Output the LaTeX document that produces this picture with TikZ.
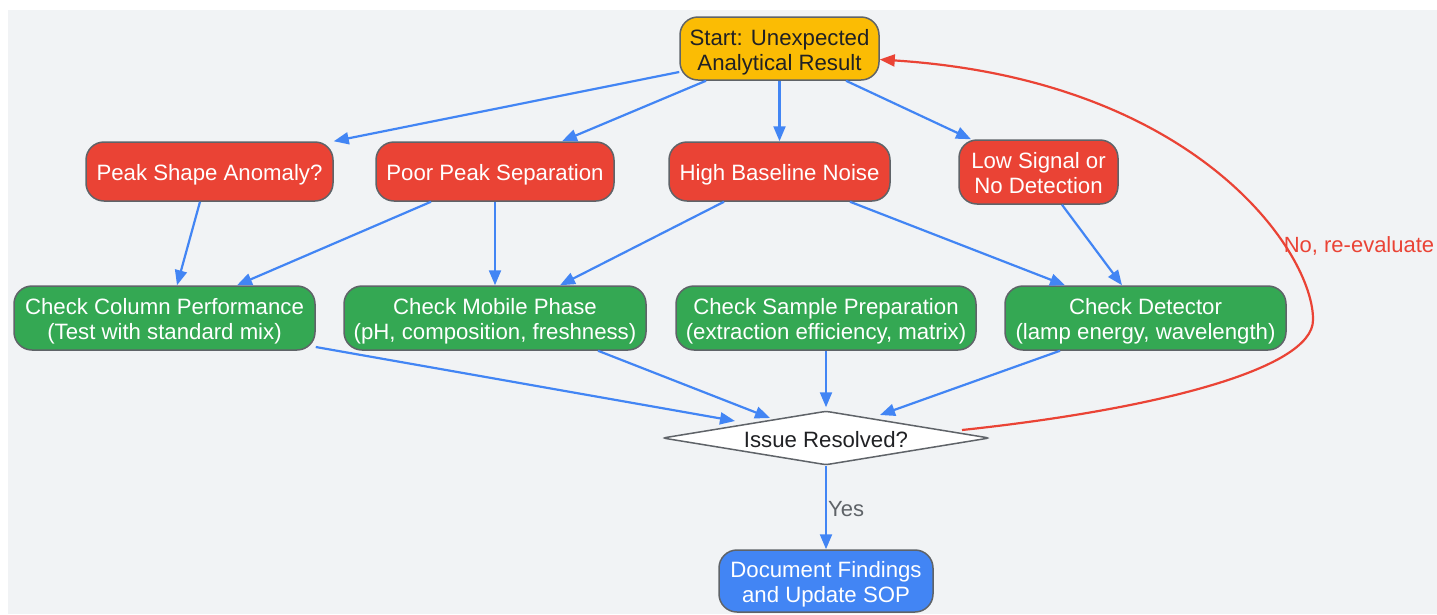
\documentclass[tikz,border=0pt]{standalone}
\usepackage{fontspec}
\setmainfont{Liberation Sans}
\usetikzlibrary{arrows.meta,shapes.geometric}
\definecolor{bgc}{HTML}{F1F3F5}
\definecolor{redc}{HTML}{EA4335}
\definecolor{greenc}{HTML}{34A853}
\definecolor{yellowc}{HTML}{FBBC04}
\definecolor{bluec}{HTML}{4285F4}
\definecolor{borderc}{HTML}{5F6368}
\definecolor{darkc}{HTML}{202124}
\newcommand\lwr[1]{\raisebox{-4pt}[\height][\depth]{\begin{tabular}{@{}c@{}}#1\end{tabular}}}
\tikzset{
  box/.style={draw=borderc, line width=1.5pt, rounded corners=18pt, inner sep=0pt,
    font=\fontsize{22.2}{25}\selectfont},
  startbox/.style={box, fill=yellowc, text=darkc},
  qbox/.style={box, fill=redc, text=white},
  chkbox/.style={box, fill=greenc, text=white},
  endbox/.style={box, fill=bluec, text=white},
  decbox/.style={diamond, aspect=6, draw=borderc, line width=1.5pt, fill=white, text=darkc, inner sep=0pt,
    rounded corners=3pt, font=\fontsize{22.2}{25}\selectfont},
  flow/.style={draw=bluec, line width=2.2pt, -{Triangle[length=15pt,width=12pt]}},
  back/.style={draw=redc, line width=2.2pt, -{Triangle[length=15pt,width=12pt]}},
}
\begin{document}
\begin{tikzpicture}[x=1pt,y=-1pt]
\useasboundingbox (0,0) rectangle (1437,614);
\fill[bgc] (8,10) rectangle (1437,614);

\node[startbox, minimum width=199pt, minimum height=63pt] (start) at (779.5,48.5) {\lwr{Start: Unexpected\\Analytical Result}};
\node[qbox, minimum width=247pt, minimum height=59pt] (peak) at (209.5,171.5) {\lwr{Peak Shape Anomaly?}};
\node[qbox, minimum width=238pt, minimum height=59pt] (poor) at (495,171.5) {\lwr{Poor Peak Separation}};
\node[qbox, minimum width=221pt, minimum height=59pt] (high) at (779.5,171.5) {\lwr{High Baseline Noise}};
\node[qbox, minimum width=159pt, minimum height=64pt] (low) at (1038.5,172) {\lwr{Low Signal or\\No Detection}};
\node[chkbox, minimum width=301pt, minimum height=64pt] (col) at (164.5,318) {\lwr{Check Column Performance\\(Test with standard mix)}};
\node[chkbox, minimum width=302pt, minimum height=64pt] (mob) at (495,318) {\lwr{Check Mobile Phase\\(pH, composition, freshness)}};
\node[chkbox, minimum width=300pt, minimum height=64pt] (samp) at (826,318) {\lwr{Check Sample Preparation\\(extraction efficiency, matrix)}};
\node[chkbox, minimum width=281pt, minimum height=64pt] (det) at (1145.5,318) {\lwr{Check Detector\\(lamp energy, wavelength)}};
\node[decbox, minimum width=327pt, minimum height=54pt] (iss) at (826,438) {\lwr{Issue Resolved?}};
\node[endbox, minimum width=214pt, minimum height=62pt] (doc) at (826,581) {\lwr{Document Findings\\and Update SOP}};

\draw[flow] ([yshift=-23.5pt]start.west) -- (peak.north east);
\draw[flow] ([xshift=-73.5pt]start.south) -- ([xshift=67pt]poor.north);
\draw[flow] (start.south) -- (high.north);
\draw[flow] ([xshift=66.5pt]start.south) -- ([xshift=-67.5pt]low.north);
\draw[flow] ([xshift=-9.5pt]peak.south) -- ([xshift=12.5pt]col.north);
\draw[flow] ([xshift=-64pt]poor.south) -- ([xshift=72.5pt]col.north);
\draw[flow] (poor.south) -- (mob.north);
\draw[flow] ([xshift=-55.5pt]high.south) -- ([xshift=65pt]mob.north);
\draw[flow] ([xshift=70.5pt]high.south) -- ([xshift=-80.5pt]det.north);
\draw[flow] ([xshift=23.5pt]low.south) -- ([xshift=-23.5pt]det.north);
\draw[flow] ([yshift=-29pt]col.east) -- ([xshift=-91pt,yshift=17pt]iss.center);
\draw[flow] ([xshift=103pt]mob.south) -- ([xshift=-56pt,yshift=20pt]iss.center);
\draw[flow] (samp.south) -- ([yshift=3pt]iss.north);
\draw[flow] ([xshift=-85.5pt]det.south) -- ([xshift=54pt,yshift=23pt]iss.center);
\draw[flow] (iss.south) -- node[right, pos=0.52, text=borderc, font=\fontsize{22}{25}\selectfont, inner sep=1pt] {Yes} (doc.north);

\coordinate (turn) at (1313,320);
\draw[back] ([xshift=136pt,yshift=8pt]iss.center) .. controls (1150,410) and (1313,370) .. (turn)
  .. controls (1314,255) and (1200,80) .. ([yshift=-11pt]start.east);
\node[text=redc, font=\fontsize{22}{25}\selectfont, inner sep=0pt] (nolab) at (1359,246) {No, re-evaluate};
\end{tikzpicture}
\end{document}
